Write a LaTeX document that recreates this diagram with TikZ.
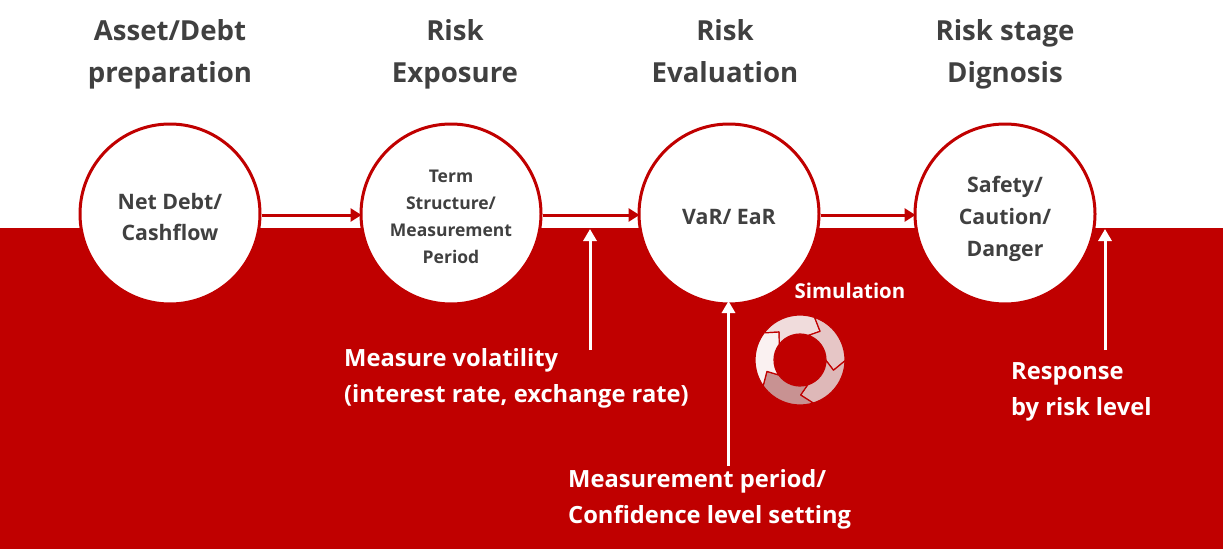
\documentclass[tikz,border=0pt]{standalone}
\usepackage{fontspec}
\setmainfont{Open Sans}
\usetikzlibrary{arrows.meta,calc}
\definecolor{brand}{HTML}{C00000}
\definecolor{ink}{HTML}{404040}
\definecolor{ringa}{HTML}{F0DCDC}
\definecolor{ringb}{HTML}{E6C6C6}
\definecolor{ringc}{HTML}{DEB8B8}
\definecolor{ringd}{HTML}{C89292}
\definecolor{ringe}{HTML}{FAF1F1}
\tikzset{
  head/.style={font=\bfseries\fontsize{27.6}{42}\selectfont,text=ink,align=center,inner sep=0pt},
  stage/.style={circle,draw=brand,line width=3pt,fill=white,minimum size=180pt,inner sep=0pt},
  stagetext/.style={align=center,inner sep=0pt,text=ink,font=\bfseries\fontsize{21.3}{31.5}\selectfont},
  stagesmall/.style={stagetext,font=\bfseries\fontsize{17.5}{27}\selectfont},
  redarrow/.style={draw=brand,line width=3pt,shorten >=-2pt,-{Triangle[length=11pt,width=13pt]}},
  whitearrow/.style={draw=white,line width=3pt,-{Triangle[length=12pt,width=13pt]}},
  note/.style={font=\bfseries\fontsize{23.7}{36}\selectfont,text=white,align=left,inner sep=0pt,anchor=west},
  seg/.style={draw=brand,line width=1.2pt,line join=round},
}
\newcommand{\ringseg}[2]{%
  \path[seg,fill=#2] (#1+88:45) arc[start angle=#1+88,end angle=#1+16,radius=45]
    -- (#1:35) -- (#1+16:26)
    arc[start angle=#1+16,end angle=#1+88,radius=26]
    -- (#1+72:35) -- cycle;}
\begin{document}
\begin{tikzpicture}[x=1pt,y=-1pt]
\useasboundingbox (0,0) rectangle (1223,549);
\fill[brand] (0,228) rectangle (1223,549);
\node[head] (h1) at (170,54) {Asset/Debt\\preparation};
\node[head] (h2) at (455,54) {Risk\\Exposure};
\node[head] (h3) at (725,51) {Risk\\Evaluation};
\node[head] (h4) at (1005,54) {Risk stage\\Dignosis};
\node[stage] (c1) at (170,214) {};
\node[stage] (c2) at (451,214) {};
\node[stage] (c3) at (729,214) {};
\node[stage] (c4) at (1005,214) {};
\node[stagetext] (t1) at (170,217) {Net Debt/\\Cashflow};
\node[stagesmall] (t2) at (451,217) {Term\\Structure/\\Measurement\\Period};
\node[stagetext] (t3) at (729,217) {VaR/ EaR};
\node[stagetext,font=\bfseries\fontsize{21.3}{32}\selectfont] (t4) at (1005,218.5) {Safety/\\Caution/\\Danger};
\coordinate (ay) at (0,215);
\draw[redarrow] (c1.east |- ay) -- (c2.west |- ay);
\draw[redarrow] (c2.east |- ay) -- (c3.west |- ay);
\draw[redarrow] (c3.east |- ay) -- (c4.west |- ay);
\node[note] (n1) at (344,378) {Measure volatility\\(interest rate, exchange rate)};
\node[note] (n2) at (568,499) {Measurement period/\\Confidence level setting};
\node[note] (n3) at (1011,392) {Response\\by risk level};
\node[font=\bfseries\fontsize{20.4}{24}\selectfont,text=white,inner sep=0pt] (sim) at (850,291) {Simulation};
\coordinate (a1s) at (590,350);
\coordinate (a1e) at (590,229);
\coordinate (a3s) at (1105,350);
\coordinate (a3e) at (1105,229);
\coordinate (a2s) at (728.5,466);
\coordinate (a2e) at (728.5,301);
\draw[whitearrow] (a1s) -- (a1e);
\draw[whitearrow] (a2s) -- (a2e);
\draw[whitearrow] (a3s) -- (a3e);
\begin{scope}[shift={(800,360)},yscale=-1]
\ringseg{55}{ringa}
\ringseg{-17}{ringb}
\ringseg{-89}{ringc}
\ringseg{-161}{ringd}
\ringseg{127}{ringe}
\end{scope}
\end{tikzpicture}
\end{document}
